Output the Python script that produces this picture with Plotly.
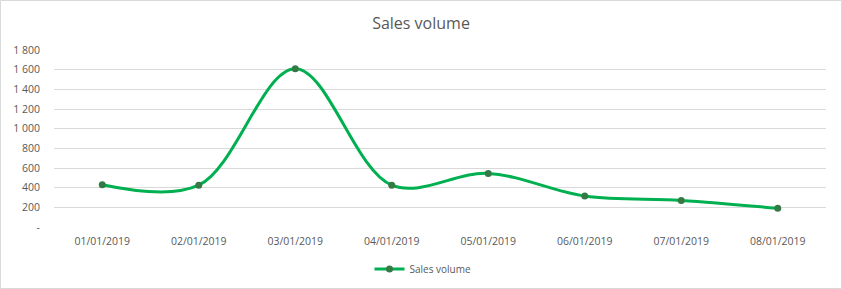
import plotly.graph_objects as go

categories = ["01/01/2019", "02/01/2019", "03/01/2019", "04/01/2019",
              "05/01/2019", "06/01/2019", "07/01/2019", "08/01/2019"]
sales_volume = [430, 425, 1610, 425, 545, 315, 270, 190]
y_tick_vals = [0, 200, 400, 600, 800, 1000, 1200, 1400, 1600, 1800]
y_tick_text = ["-", "200", "400", "600", "800", "1 000", "1 200", "1 400", "1 600", "1 800"]

W, H = 842, 289
L, R, T, B = 54, 16, 50, 62

fig = go.Figure()
fig.add_trace(go.Scatter(
    x=categories, y=sales_volume, name="Sales volume",
    mode="lines+markers",
    line=dict(color="#00B050", width=3, shape="spline", smoothing=1),
    marker=dict(color="#357A45", size=7),
))

pw = W - L - R
ph = H - T - B
fig.update_layout(
    width=W, height=H,
    margin=dict(l=L, r=R, t=T, b=B, autoexpand=False),
    paper_bgcolor="white", plot_bgcolor="white",
    font=dict(family="Open Sans, Liberation Sans, sans-serif", color="#595959", size=10),
    title=dict(text="Sales volume", x=0.5, xanchor="center", y=1 - 23 / H, yanchor="middle",
               font=dict(size=16, color="#595959")),
    showlegend=True,
    legend=dict(orientation="h", x=0.478, xanchor="center", yref="container",
                y=1 - 269 / H, yanchor="middle", font=dict(size=10, color="#595959"),
                itemwidth=30),
    xaxis=dict(type="category", range=[-0.5, 7.5], showgrid=False, showline=False,
               ticks="", tickfont=dict(size=10.5, color="#595959"), fixedrange=True,
               ticklabelstandoff=6),
    yaxis=dict(range=[0, 1800], tickvals=y_tick_vals, ticktext=y_tick_text,
               showgrid=True, gridcolor="#D9D9D9", gridwidth=1, zeroline=False,
               showline=False, ticks="", tickfont=dict(size=10.5, color="#595959"),
               ticklabelstandoff=13),
    shapes=[dict(type="rect", xref="paper", yref="paper",
                 x0=-(L - 0.5) / pw, x1=1 + (R - 0.5) / pw,
                 y0=-(B - 0.5) / ph, y1=1 + (T - 0.5) / ph,
                 line=dict(color="#D9D9D9", width=1), layer="below")],
)
fig.write_html("out.html")
